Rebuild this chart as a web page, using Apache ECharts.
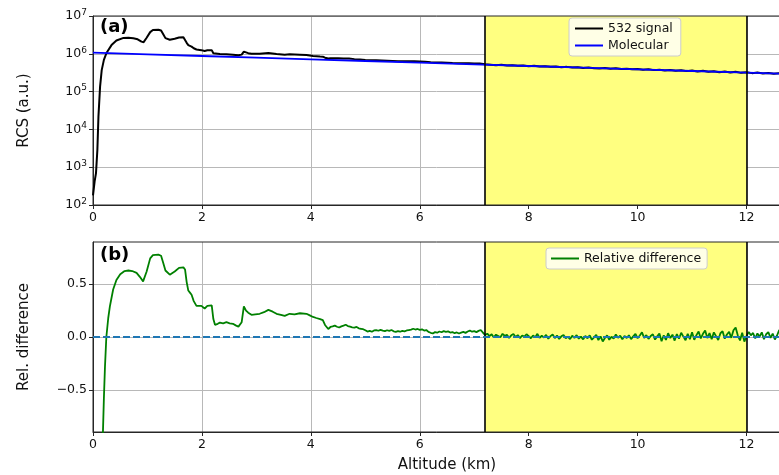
<!DOCTYPE html>
<html><head><meta charset="utf-8">
<script src="https://cdn.jsdelivr.net/npm/echarts@6/dist/echarts.min.js"></script>
<style>html,body{margin:0;padding:0;background:#fff}#c{width:779px;height:475px}</style>
</head><body><div id="c"></div>
<script>
// ---------- data ----------
const xTickStep = 2;
const xMax = 13;
const spanStart = 7.2;
const spanEnd = 12.0;

const molAlt = [0,1,2,3,4,5,6,7,8,9,10,11,12,13];
const molVal = [1070000,967000,874000,790000,713000,645000,583000,526000,476000,430000,389000,351000,317000,287000];

const sigAlt = [0,0.03,0.055,0.08,0.1,0.13,0.16,0.2,0.25,0.34,0.43,0.56,0.65,0.74,0.82,0.89,0.93,0.985,1.05,1.1,1.2,1.25,1.29,1.33,1.41,1.5,1.58,1.66,1.69,1.72,1.75,1.81,1.85,1.9,1.99,2.05,2.1,2.18,2.21,2.24,2.33,2.45,2.57,2.67,2.73,2.77,2.85,2.91,3.06,3.22,3.37,3.52,3.61,3.8,3.92,4.04,4.17,4.22,4.26,4.32,4.36,
  4.4,4.5,4.6,4.7,4.8,4.9,5.0,5.1,5.2,5.3,5.4,5.5,5.6,5.7,5.8,5.9,6.0,6.1,6.2,6.3,6.4,6.5,6.6,6.7,6.8,6.9,7.0,7.1,7.2,7.3,7.4,7.5,7.6,7.7,7.8,7.9,8.0,8.1,8.2,8.3,8.4,8.5,8.6,8.7,8.8,8.9,9.0,9.1,9.2,9.3,9.4,9.5,9.6,9.7,9.8,9.9,10.0,10.1,10.2,10.3,10.4,10.5,10.6,10.7,10.8,10.9,11.0,11.1,11.2,11.3,11.4,11.5,11.6,11.7,11.8,11.9,12.0,12.1,12.2,12.3,12.4,12.5,12.6,12.7,12.8,12.9,13.0];
const sigVal = [180,420,700,2800,22000,135000,370000,690000,1070000,1700000,2240000,2630000,2650000,2570000,2420000,2100000,2030000,2650000,3750000,4250000,4350000,4150000,3300000,2600000,2350000,2500000,2700000,2750000,2600000,1950000,1700000,1550000,1400000,1300000,1250000,1190000,1240000,1250000,1040000,970000,990000,980000,950000,910000,950000,1140000,1040000,1010000,1010000,1050000,990000,945000,970000,950000,930000,880000,850000,840000,790000,750000,765000,
  761000,762000,746000,746000,723000,708000,686000,675000,676000,669000,659000,649000,639000,639000,636000,637000,627000,614000,595000,592000,589000,583000,571000,563000,562000,566000,558000,554000,527000,516000,499000,511000,491000,501000,482000,490000,470000,480000,460000,470000,453000,461000,441000,451000,433000,443000,422000,432000,416000,406000,419000,403000,413000,394000,404000,388000,397000,379000,389000,370000,381000,362000,373000,355000,366000,348000,360000,340000,354000,334000,346000,327000,340000,320000,335000,313000,324000,308000,318000,301000,312000,295000,305000,290000,299000,284000,292000];

const relAlt = [0.10,0.15,0.18,0.20,0.22,0.245,0.28,0.31,0.37,0.43,0.50,0.58,0.65,0.72,0.80,0.86,0.92,0.985,1.05,1.10,1.20,1.25,1.29,1.33,1.41,1.50,1.58,1.66,1.69,1.72,1.75,1.78,1.81,1.85,1.90,1.99,2.05,2.10,2.18,2.21,2.24,2.29,2.33,2.39,2.45,2.51,2.57,2.62,2.67,2.73,2.77,2.81,2.85,2.91,2.98,3.06,3.14,3.22,3.30,3.37,3.45,3.52,3.61,3.70,3.80,3.92,3.98,4.04,4.10,4.17,4.22,4.26,4.32,4.36];
const relVal = [-3.2,-1.6,-0.95,-0.58,-0.28,0.0,0.18,0.29,0.45,0.54,0.595,0.625,0.63,0.625,0.607,0.57,0.527,0.62,0.745,0.775,0.78,0.77,0.70,0.63,0.59,0.62,0.655,0.66,0.64,0.52,0.44,0.42,0.40,0.34,0.295,0.295,0.27,0.295,0.30,0.17,0.115,0.125,0.136,0.13,0.14,0.13,0.125,0.11,0.098,0.14,0.29,0.25,0.23,0.21,0.215,0.22,0.235,0.257,0.24,0.22,0.21,0.20,0.22,0.215,0.225,0.22,0.205,0.19,0.18,0.17,0.16,0.114,0.076,0.095];
// noisy part sampled every 0.04 km from 4.40 km
const relNoisyStart = 4.40;
const relNoisyStep = 0.04;
const relNoisy = [0.100,0.108,0.097,0.090,0.101,0.108,0.116,0.104,0.098,0.092,0.088,0.095,0.082,0.078,0.074,0.064,0.052,0.058,0.050,0.062,0.066,0.059,0.068,0.061,0.055,0.064,0.058,0.066,0.054,0.049,0.056,0.050,0.058,0.053,0.062,0.066,0.070,0.078,0.071,0.076,0.068,0.073,0.061,0.066,0.048,0.040,0.034,0.046,0.041,0.052,0.045,0.056,0.049,0.053,0.042,0.047,0.036,0.043,0.033,0.041,0.048,0.039,0.052,0.061,0.050,0.055,0.046,0.058,0.066,0.042,0.018,
  0.032,0.008,0.026,-0.004,0.022,0.010,-0.002,0.030,0.012,0.020,-0.008,0.016,0.028,0.000,0.018,-0.010,0.014,0.004,0.026,0.008,
  -0.012,0.014,-0.002,0.030,-0.008,0.012,-0.004,0.020,-0.016,0.008,0.024,-0.010,0.014,-0.018,0.006,0.020,-0.012,0.002,-0.020,0.012,
  -0.008,0.018,-0.016,0.004,-0.022,0.010,-0.012,0.016,-0.026,-0.004,0.020,-0.030,0.006,-0.042,-0.010,0.016,-0.026,0.002,-0.016,0.024,
  -0.008,0.012,-0.022,0.010,-0.010,0.016,-0.020,0.006,0.030,-0.012,0.014,0.044,-0.008,0.018,-0.018,0.010,0.026,-0.024,0.006,0.034,
  -0.040,0.016,-0.028,0.036,-0.010,0.022,-0.034,0.028,-0.016,0.040,0.004,-0.030,0.030,-0.020,0.044,-0.026,0.018,0.052,-0.014,0.030,
  0.062,-0.010,0.038,-0.022,0.044,0.008,-0.028,0.036,0.054,-0.016,0.024,0.050,-0.008,0.064,0.090,0.014,-0.032,0.040,-0.044,0.008,
  0.048,0.016,0.038,-0.014,0.034,0.004,0.044,-0.020,0.026,0.046,-0.008,0.032,-0.024,0.014,0.066,0.040,-0.010,0.030,0.052,0.010,0.036,-0.016,0.026,0.044,0.006];

const logMinor = [200,300,400,500,600,700,800,900,2000,3000,4000,5000,6000,7000,8000,9000,20000,30000,40000,50000,60000,70000,80000,90000,200000,300000,400000,500000,600000,700000,800000,900000,2000000,3000000,4000000,5000000,6000000,7000000,8000000,9000000];
const relTicks = [-0.5,0,0.5];

// ---------- build ----------
const FONT = 'DejaVu Sans';
const TXT = '#111111';
const SPINE = '#262626';
const GRIDC = '#b8b8b8';

const sigData = sigAlt.map((a,i)=>[a,sigVal[i]]);
const molData = molAlt.map((a,i)=>[a,molVal[i]]);
const relData = relAlt.map((a,i)=>[a,relVal[i]]);
relNoisy.forEach((v,i)=>relData.push([+(relNoisyStart + i*relNoisyStep).toFixed(2), v]));

function xAxisCfg(g, extra){
  return Object.assign({type:'value', gridIndex:g, min:0, max:xMax, interval:xTickStep, z:1,
    axisLine:{show:true,onZero:false,lineStyle:{color:SPINE,width:1}},
    axisTick:{show:true,inside:false,length:4,lineStyle:{color:SPINE,width:1}},
    axisLabel:{show:true,margin:6,fontFamily:FONT,fontSize:12.5,color:TXT,showMaxLabel:false},
    splitLine:{show:true,lineStyle:{color:GRIDC,width:1}}}, extra||{});
}
const legendCommon = {itemWidth:28, itemHeight:14, backgroundColor:'rgba(255,255,255,0.8)', borderColor:'#cccccc',
  borderWidth:1, borderRadius:3, textStyle:{fontFamily:FONT,fontSize:12.5,color:TXT}, selectedMode:false,
  itemStyle:{opacity:0, borderWidth:0}};

const option = {
  animation:false,
  backgroundColor:'#ffffff',
  textStyle:{fontFamily:FONT},
  grid:[
    {left:93, top:16, right:-22, height:189, show:true, borderColor:SPINE, borderWidth:1, backgroundColor:'transparent', z:3, outerBoundsMode:'none', containLabel:false},
    {left:93, top:242, right:-22, height:190, show:true, borderColor:SPINE, borderWidth:1, backgroundColor:'transparent', z:3, outerBoundsMode:'none', containLabel:false}
  ],
  xAxis:[
    xAxisCfg(0),
    xAxisCfg(1,{name:'Altitude (km)', nameLocation:'middle', nameGap:26, nameTextStyle:{fontFamily:FONT,fontSize:15,color:TXT}})
  ],
  yAxis:[
    {type:'log', gridIndex:0, logBase:10, min:100, max:10000000, z:1,
      name:'RCS (a.u.)', nameLocation:'middle', nameGap:61, nameTextStyle:{fontFamily:FONT,fontSize:15,color:TXT},
      axisLine:{show:true,lineStyle:{color:SPINE,width:1}},
      axisTick:{show:true,inside:false,length:4,lineStyle:{color:SPINE,width:1}},
      axisLabel:{margin:6, fontFamily:FONT, color:TXT,
        formatter:function(v){const e=Math.round(Math.log10(v));return '{b|10}{s|'+e+'}';},
        rich:{b:{fontSize:12.5,fontFamily:FONT,color:TXT}, s:{fontSize:9,fontFamily:FONT,color:TXT,verticalAlign:'bottom',padding:[0,0,7,0]}}},
      splitLine:{show:true,lineStyle:{color:GRIDC,width:1}}},
    {type:'log', gridIndex:0, logBase:10, min:100, max:10000000, z:1,
      axisLine:{show:false}, axisLabel:{show:false}, splitLine:{show:false},
      axisTick:{show:true,inside:false,length:2,customValues:logMinor,lineStyle:{color:SPINE,width:0.8}}},
    {type:'value', gridIndex:1, min:-0.9, max:0.9, z:1,
      name:'Rel. difference', nameLocation:'middle', nameGap:61, nameTextStyle:{fontFamily:FONT,fontSize:15,color:TXT},
      axisLine:{show:true,onZero:false,lineStyle:{color:SPINE,width:1}},
      axisTick:{show:true,inside:false,length:4,customValues:relTicks,lineStyle:{color:SPINE,width:1}},
      axisLabel:{margin:6,fontFamily:FONT,fontSize:12.5,color:TXT,customValues:relTicks,
        formatter:function(v){return (v<0?'\u2212':'')+Math.abs(v).toFixed(1);}},
      splitLine:{show:true,lineStyle:{color:GRIDC,width:1}}}
  ],
  legend:[
    Object.assign({data:['532 signal','Molecular'], orient:'vertical', left:569, top:18, itemGap:4, padding:[4,8,4,5]}, legendCommon),
    Object.assign({data:['Relative difference'], orient:'vertical', left:546, top:248, padding:[4,6,4,4]}, legendCommon)
  ],
  graphic:[
    {type:'text', left:100, top:18, z:10, style:{text:'(a)', font:'bold 18px "DejaVu Sans"', fill:'#000'}},
    {type:'text', left:100, top:246, z:10, style:{text:'(b)', font:'bold 18px "DejaVu Sans"', fill:'#000'}}
  ],
  series:[
    {name:'spanA', type:'line', xAxisIndex:0, yAxisIndex:0, data:[], z:-1, silent:true,
      markArea:{silent:true, itemStyle:{color:'#ffff80'}, data:[[{xAxis:spanStart},{xAxis:spanEnd}]]}},
    {name:'edgeA', type:'line', xAxisIndex:0, yAxisIndex:0, data:[], z:2, silent:true,
      markLine:{silent:true, symbol:['none','none'], label:{show:false}, lineStyle:{color:'#000',type:'solid',width:1.6},
        data:[{xAxis:spanStart},{xAxis:spanEnd}]}},
    {name:'532 signal', type:'line', xAxisIndex:0, yAxisIndex:0, data:sigData, symbol:'none', z:3,
      lineStyle:{color:'#000000',width:2}, itemStyle:{color:'#000000'}},
    {name:'Molecular', type:'line', xAxisIndex:0, yAxisIndex:0, data:molData, symbol:'none', z:3,
      lineStyle:{color:'#0000ff',width:1.8}, itemStyle:{color:'#0000ff'}},
    {name:'spanB', type:'line', xAxisIndex:1, yAxisIndex:2, data:[], z:-1, silent:true,
      markArea:{silent:true, itemStyle:{color:'#ffff80'}, data:[[{xAxis:spanStart},{xAxis:spanEnd}]]}},
    {name:'edgeB', type:'line', xAxisIndex:1, yAxisIndex:2, data:[], z:2, silent:true,
      markLine:{silent:true, symbol:['none','none'], label:{show:false}, lineStyle:{color:'#000',type:'solid',width:1.6},
        data:[{xAxis:spanStart},{xAxis:spanEnd}]}},
    {name:'zero', type:'line', xAxisIndex:1, yAxisIndex:2, data:[], z:2, silent:true,
      markLine:{silent:true, symbol:['none','none'], label:{show:false}, lineStyle:{color:'#1f77b4',type:[7,3],width:1.8},
        data:[{yAxis:0}]}},
    {name:'Relative difference', type:'line', xAxisIndex:1, yAxisIndex:2, data:relData, symbol:'none', z:3,
      lineStyle:{color:'#008000',width:1.8}, itemStyle:{color:'#008000'}}
  ]
};
const chart = echarts.init(document.getElementById('c'));
chart.setOption(option);
</script>
</body></html>
